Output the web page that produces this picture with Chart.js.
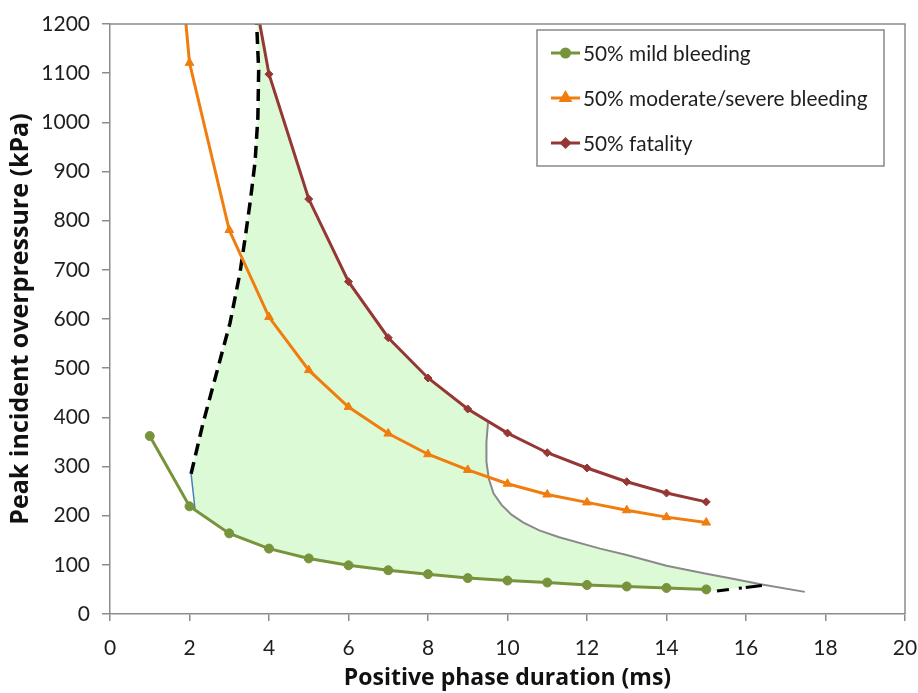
<!DOCTYPE html>
<html>
<head>
<meta charset="utf-8">
<script src="https://cdn.jsdelivr.net/npm/chart.js"></script>
<style>
html,body{margin:0;padding:0;background:#fff;}
#wrap{width:918px;height:693px;}
</style>
</head>
<body>
<div id="wrap"><canvas id="c" width="918" height="693"></canvas></div>
<script>
// ---- data ----
const xTicksMax = 20;
const yTicksMax = 1200;
const durations = [1,2,3,4,5,6,7,8,9,10,11,12,13,14,15];
const mildBleeding = [362,219,164,133,113,99,89,81,73,68,64,59,56,53,50];
const moderateSevere = [2010,1121,781,604,496,421,367,325,293,265,243,227,211,197,186];
const fatalityDur = [3,4,5,6,7,8,9,10,11,12,13,14,15];
const fatality = [1540,1098,844,676,562,480,417,368,328,297,269,246,228];
// dashed boundary (left)
const dashedX = [2.04,2.34,2.68,3.02,3.27,3.40,3.53,3.65,3.72,3.74,3.69];
const dashedY = [285,388,490,592,694,765,840,920,1010,1106,1200];
// thin blue connector
const blueX = [2.04,2.14];
const blueY = [285,213];
// gray boundary curve
const grayX = [9.51,9.47,9.47,9.53,9.65,9.85,10.1,10.4,10.8,11.3,12.33,13,14,15,15.7,16.4,17.48];
const grayY = [390,350,310,275,245,222,202,186,170,156,133,120,98,82,71,60,45];
// black dash-dot segment (bottom right)
const dashDotX = [15.27,16.4];
const dashDotY = [47,58];
const legendLabels = ['50% mild bleeding','50% moderate/severe bleeding','50% fatality'];

const GREEN = '#77933C', ORANGE = '#F07D0E', RED = '#953735';
const AXIS = '#8c8c8c';

const pts = (xs, ys) => xs.map((x, i) => ({x: x, y: ys[i]}));

// fill polygon built from the boundaries
const fillPoly = [];
pts(dashedX, dashedY).forEach(p => fillPoly.push(p));
fillPoly.push({x: 3.69, y: 1300});
fillPoly.push({x: 3.55, y: 1300});
pts(fatalityDur, fatality).filter(p => p.x <= 9).forEach(p => fillPoly.push(p));
pts(grayX, grayY).filter(p => p.x <= 16.4).forEach(p => fillPoly.push(p));
fillPoly.push({x: dashDotX[0], y: dashDotY[0]});
pts(durations, mildBleeding).filter(p => p.x >= 3).reverse().forEach(p => fillPoly.push(p));
fillPoly.push({x: blueX[1], y: blueY[1]});

const frame = {
  id: 'frame',
  afterDraw(chart) {
    const {ctx, chartArea: a} = chart;
    ctx.save();
    ctx.strokeStyle = AXIS;
    ctx.lineWidth = 1.5;
    ctx.beginPath();
    ctx.moveTo(a.left, a.top);
    ctx.lineTo(a.right, a.top);
    ctx.lineTo(a.right, a.bottom);
    ctx.stroke();
    // legend
    const bx = 537, by = 30, bw = 347, bh = 136;
    ctx.fillStyle = '#fff';
    ctx.fillRect(bx, by, bw, bh);
    ctx.strokeStyle = '#888';
    ctx.lineWidth = 1.5;
    ctx.strokeRect(bx, by, bw, bh);
    const rows = [53, 98, 143];
    const styles = [
      {c: GREEN, s: 'circle', r: 4},
      {c: ORANGE, s: 'triangle', r: 5},
      {c: RED, s: 'rectRot', r: 4}
    ];
    ctx.font = '20.8px Lato';
    ctx.textBaseline = 'middle';
    ctx.textAlign = 'left';
    legendLabels.forEach((t, i) => {
      const y = rows[i], st = styles[i];
      ctx.strokeStyle = st.c;
      ctx.lineWidth = 3;
      ctx.beginPath();
      ctx.moveTo(551, y);
      ctx.lineTo(580, y);
      ctx.stroke();
      ctx.fillStyle = st.c;
      Chart.helpers.drawPoint(ctx, {pointStyle: st.s, radius: st.r, borderWidth: 1, rotation: 0}, 565.5, y);
      ctx.fillStyle = '#1e1e1e';
      ctx.fillText(t, 583, y + 1);
    });
    ctx.restore();
  }
};

const chart = new Chart(document.getElementById('c'), {
  type: 'scatter',
  data: {
    datasets: [
      {data: pts(durations, mildBleeding), showLine: true, borderColor: GREEN, backgroundColor: GREEN,
       borderWidth: 3, pointStyle: 'circle', pointRadius: 4.5, pointBorderWidth: 1},
      {data: pts(durations, moderateSevere), showLine: true, borderColor: ORANGE, backgroundColor: ORANGE,
       borderWidth: 3, pointStyle: 'triangle', pointRadius: 5, pointBorderWidth: 1},
      {data: pts(fatalityDur, fatality), showLine: true, borderColor: RED, backgroundColor: RED,
       borderWidth: 3, pointStyle: 'rectRot', pointRadius: 4, pointBorderWidth: 1},
      {data: pts(blueX, blueY), showLine: true, borderColor: '#4A7EBB', borderWidth: 1.5, pointRadius: 0},
      {data: pts(dashedX, dashedY), showLine: true, borderColor: '#000', borderWidth: 3.5,
       borderDash: [12, 7], pointRadius: 0},
      {data: pts(dashDotX, dashDotY), showLine: true, borderColor: '#000', borderWidth: 3,
       borderDash: [12, 10, 3, 4, 20, 0], pointRadius: 0},
      {data: pts(grayX, grayY), showLine: true, borderColor: '#8a8a8a', borderWidth: 2, pointRadius: 0},
      {data: fillPoly, showLine: true, borderWidth: 0, borderColor: 'rgba(0,0,0,0)',
       backgroundColor: 'rgb(221,250,214)', fill: 'shape', pointRadius: 0}
    ]
  },
  options: {
    responsive: false,
    animation: false,
    devicePixelRatio: 1,
    layout: {padding: {top: 24, right: 13, left: 0, bottom: 0}},
    plugins: {legend: {display: false}, tooltip: {enabled: false}},
    scales: {
      x: {
        type: 'linear', min: 0, max: xTicksMax,
        ticks: {stepSize: 2, font: {family: 'Lato', size: 21}, color: '#1e1e1e', padding: 15,
                callback: v => String(v)},
        grid: {drawOnChartArea: false, drawTicks: true, tickLength: 7, color: AXIS, lineWidth: 1.5},
        border: {color: AXIS, width: 1.5},
        title: {display: true, text: 'Positive phase duration (ms)', font: {family: 'Open Sans', size: 23, weight: 'bold'},
                color: '#111', padding: {top: 0, bottom: 1}},
        afterFit(s) { s.height = 79; s.paddingLeft = 0; s.paddingRight = 0; }
      },
      y: {
        type: 'linear', min: 0, max: yTicksMax,
        ticks: {stepSize: 100, font: {family: 'Lato', size: 21}, color: '#1e1e1e', padding: 12,
                callback: v => String(v)},
        grid: {drawOnChartArea: false, drawTicks: true, tickLength: 8, color: AXIS, lineWidth: 1.5},
        border: {color: AXIS, width: 1.5},
        title: {display: true, text: 'Peak incident overpressure (kPa)', font: {family: 'Open Sans', size: 25, weight: 'bold'},
                color: '#111', padding: {top: 6, bottom: 0}},
        afterFit(s) { s.width = 110; s.paddingTop = 0; s.paddingBottom = 0; }
      }
    }
  },
  plugins: [frame]
});
</script>
</body>
</html>
